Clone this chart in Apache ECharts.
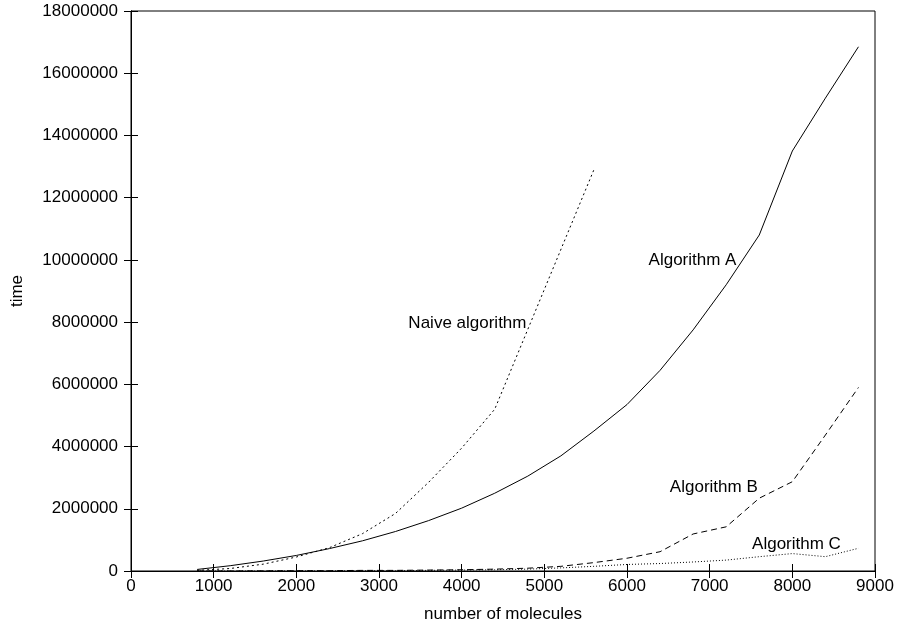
<!DOCTYPE html>
<html>
<head>
<meta charset="utf-8">
<script src="https://cdn.jsdelivr.net/npm/echarts@6/dist/echarts.min.js"></script>
<style>
  html, body { margin: 0; padding: 0; background: #fff; }
  #chart { width: 898px; height: 626px; }
</style>
</head>
<body>
<div id="chart"></div>
<script>
// molecule counts (x values)
var sizes = [800, 1200, 1600, 2000, 2400, 2800, 3200, 3600, 4000, 4400, 4800,
             5200, 5600, 6000, 6400, 6800, 7200, 7600, 8000, 8400, 8800];
// naive algorithm stops early
var naiveSizes = [800, 1200, 1600, 2000, 2400, 2800, 3200, 3600, 4000, 4400, 5600];
var naiveTime = [20000, 80000, 220000, 450000, 750000, 1200000, 1850000, 2850000, 3950000, 5200000, 12900000];
var algoA = [50000, 170000, 320000, 500000, 720000, 970000, 1270000, 1620000, 2020000, 2500000, 3050000,
             3700000, 4500000, 5350000, 6450000, 7750000, 9200000, 10800000, 13500000, 15200000, 16850000];
var algoB = [0, 0, 5000, 10000, 10000, 20000, 20000, 30000, 40000, 60000, 90000,
             150000, 270000, 410000, 620000, 1190000, 1420000, 2340000, 2870000, 4370000, 5900000];
var algoC = [0, 0, 0, 5000, 5000, 10000, 10000, 20000, 30000, 40000, 60000,
             100000, 150000, 210000, 240000, 290000, 350000, 460000, 560000, 460000, 730000];

var font = 'Liberation Sans, Arial, sans-serif';

function pairs(xs, ys) {
    return xs.map(function (x, i) { return [x, ys[i]]; });
}

// label placed at a data coordinate
function tag(text, coord, pos) {
    return {
        symbol: 'circle',
        symbolSize: 1,
        itemStyle: { color: 'rgba(0,0,0,0)' },
        data: [{
            coord: coord,
            label: {
                show: true,
                formatter: text,
                position: pos,
                distance: 0,
                color: '#000',
                fontSize: 17,
                fontFamily: font
            }
        }]
    };
}

var chart = echarts.init(document.getElementById('chart'));
var plain = function (v) { return String(v); };

chart.setOption({
    animation: false,
    textStyle: { fontFamily: font, color: '#000' },
    grid: { left: 131, right: 23, top: 11, bottom: 55, show: true, borderColor: '#000', borderWidth: 1,
            containLabel: false, outerBoundsMode: 'none' },
    xAxis: [{
        type: 'value',
        min: 0,
        max: 9000,
        interval: 1000,
        name: 'number of molecules',
        nameLocation: 'middle',
        nameGap: 35,
        nameTextStyle: { fontSize: 17, color: '#000', fontFamily: font },
        axisLine: { lineStyle: { color: '#000', width: 1 } },
        axisTick: { inside: true, length: 7, lineStyle: { color: '#000' } },
        axisLabel: { formatter: plain, fontSize: 17, color: '#000', margin: 7, fontFamily: font },
        splitLine: { show: false }
    }, {
        type: 'value',
        position: 'top',
        min: 0,
        max: 9000,
        interval: 1000,
        axisLine: { lineStyle: { color: '#000' } },
        axisTick: { inside: true, length: 7, lineStyle: { color: '#000' } },
        axisLabel: { show: false },
        splitLine: { show: false }
    }],
    yAxis: [{
        type: 'value',
        min: 0,
        max: 18000000,
        interval: 2000000,
        name: 'time',
        nameLocation: 'middle',
        nameGap: 105,
        nameTextStyle: { fontSize: 17, color: '#000', fontFamily: font },
        axisLine: { show: true, lineStyle: { color: '#000', width: 1 } },
        axisTick: { show: true, inside: true, length: 7, lineStyle: { color: '#000' } },
        axisLabel: { formatter: plain, fontSize: 17, color: '#000', margin: 13, fontFamily: font },
        splitLine: { show: false }
    }, {
        type: 'value',
        position: 'right',
        min: 0,
        max: 18000000,
        interval: 2000000,
        axisLine: { show: true, lineStyle: { color: '#000' } },
        axisTick: { show: true, inside: true, length: 7, lineStyle: { color: '#000' } },
        axisLabel: { show: false },
        splitLine: { show: false }
    }],
    series: [
        {
            name: 'Naive algorithm',
            type: 'line',
            data: pairs(naiveSizes, naiveTime),
            showSymbol: false,
            lineStyle: { color: '#000', width: 1, type: [2, 3] },
            markPoint: tag('Naive algorithm', [4790, 7970000], 'left')
        },
        {
            name: 'Algorithm A',
            type: 'line',
            data: pairs(sizes, algoA),
            showSymbol: false,
            lineStyle: { color: '#000', width: 1 },
            markPoint: tag('Algorithm A', [7330, 10000000], 'left')
        },
        {
            name: 'Algorithm B',
            type: 'line',
            data: pairs(sizes, algoB),
            showSymbol: false,
            lineStyle: { color: '#000', width: 1, type: [6, 4] },
            markPoint: tag('Algorithm B', [7050, 2700000], 'inside')
        },
        {
            name: 'Algorithm C',
            type: 'line',
            data: pairs(sizes, algoC),
            showSymbol: false,
            lineStyle: { color: '#000', width: 1, type: [1, 2] },
            markPoint: tag('Algorithm C', [8050, 860000], 'inside')
        }
    ]
});
</script>
</body>
</html>
